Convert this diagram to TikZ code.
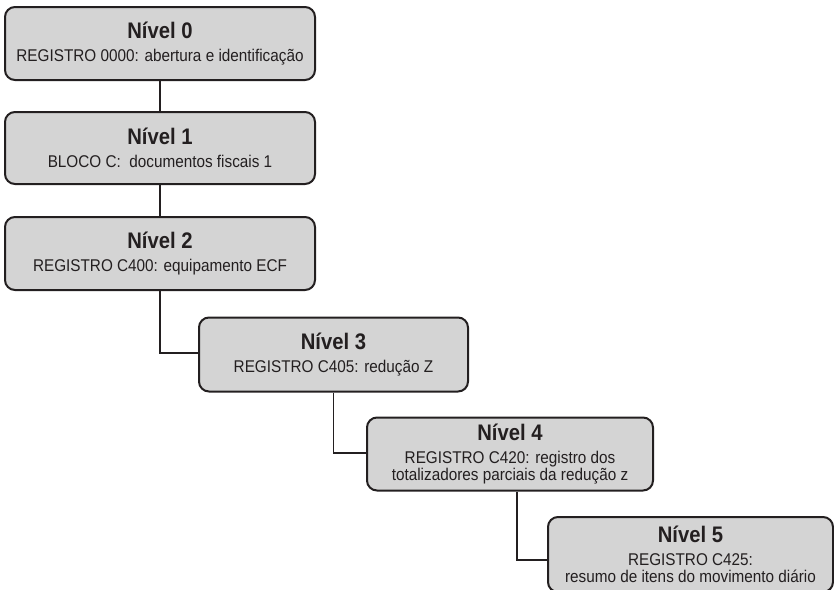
\documentclass[tikz,border=0pt]{standalone}
\usepackage{fontspec}
\setmainfont{Liberation Sans}[FakeStretch=0.9]
\usepackage{xcolor}
\definecolor{boxfill}{HTML}{D4D4D4}
\definecolor{ink}{HTML}{231F20}
\newcommand{\nivel}[1]{{\bfseries\fontsize{22.5}{24}\selectfont N\'ivel #1}\\[5.5pt]}

\begin{document}
\begin{tikzpicture}[x=1pt,y=-1pt,every node/.style={rectangle,draw=ink,line width=2pt,rounded corners=10pt,fill=boxfill,text=ink,align=center,inner sep=2pt,font=\fontsize{17}{17.5}\selectfont},link/.style={draw=ink,line width=1.9pt}]
  \useasboundingbox (0,0) rectangle (834,589);

  \node[minimum width=310pt,minimum height=73pt] (n0) at (160,43.5) {\nivel{0}REGISTRO 0000: abertura e identificação};
  \node[minimum width=310pt,minimum height=72pt] (n1) at (160,148) {\nivel{1}BLOCO C:\ \ documentos fiscais 1};
  \node[minimum width=310pt,minimum height=73pt] (n2) at (160,253.5) {\nivel{2}REGISTRO C400: equipamento ECF};
  \node[minimum width=269pt,minimum height=74pt] (n3) at (333.5,354.5) {\nivel{3}REGISTRO C405: redução Z};
  \node[minimum width=286pt,minimum height=73pt] (n4) at (510,454) {\nivel{4}REGISTRO C420: registro dos\\totalizadores parciais da redução z};
  \node[minimum width=285pt,minimum height=75pt] (n5) at (690.5,554.5) {\nivel{5}REGISTRO C425:\\resumo de itens do movimento diário};

  \draw[link] (n0) -- (n1);
  \draw[link] (n1) -- (n2);
  \draw[link] (n2.south) |- ([yshift=1.5pt]n3.west);
  \draw[link] (n3.south) |- ([yshift=1pt]n4.west);
  \draw[link] ([xshift=7pt]n4.south) |- ([yshift=-5.5pt]n5.west);
\end{tikzpicture}
\end{document}
